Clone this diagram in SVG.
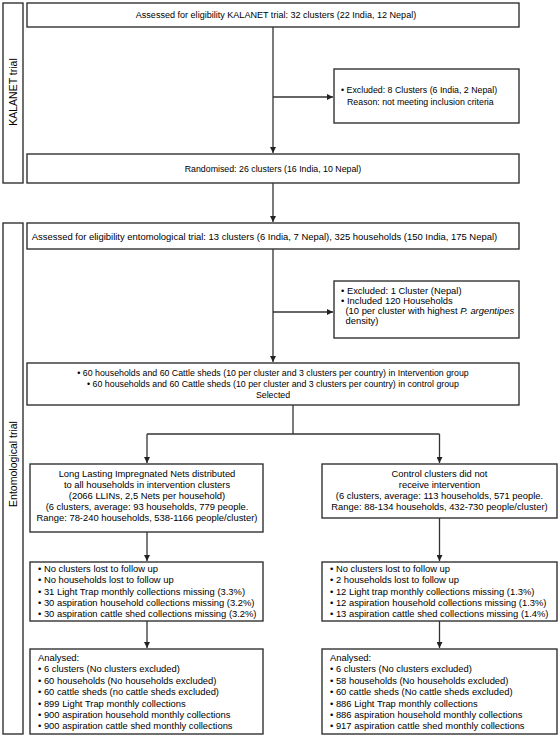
<svg xmlns="http://www.w3.org/2000/svg" width="560" height="738" viewBox="0 0 560 738">
<defs>
<marker id="ah" markerWidth="6" markerHeight="6" refX="6" refY="3" orient="auto" markerUnits="userSpaceOnUse">
<path d="M0,0 L6,3 L0,6 Z" fill="#222"/>
</marker>
<style>
.box{fill:#fff;stroke:#333;stroke-width:1.4}
.t{font-family:"Liberation Sans",Arial,sans-serif;font-size:8.8px;fill:#000}
.c{text-anchor:middle}
.m{font-size:9.4px}
.lab{font-family:"Liberation Sans",Arial,sans-serif;font-size:10.5px;fill:#000;text-anchor:middle}
.ln{fill:none;stroke:#333;stroke-width:1.3}
</style>
</defs>
<rect width="560" height="738" fill="#fff"/>
<g id="label-kalanet">
<rect class="box" x="3" y="3" width="20" height="180"/>
<text class="lab" transform="translate(16.8,92) rotate(-90)">KALANET trial</text>
</g>
<g id="label-ento">
<rect class="box" x="3" y="223" width="20" height="511"/>
<text class="lab" transform="translate(16.8,464) rotate(-90)">Entomological trial</text>
</g>
<g id="assessed-kalanet">
<rect class="box" x="27" y="3" width="492" height="24"/>
<text class="t c" x="276" y="18" style="font-size:9.05px">Assessed for eligibility KALANET trial: 32 clusters (22 India, 12 Nepal)</text>
</g>
<g id="excluded-kalanet">
<rect class="box" x="334" y="69" width="185" height="54"/>
<text class="t" x="341" y="93">• Excluded: 8 Clusters (6 India, 2 Nepal)</text>
<text class="t" x="347" y="105">Reason: not meeting inclusion criteria</text>
</g>
<g id="randomised">
<rect class="box" x="27" y="154" width="492" height="29"/>
<text class="t c" x="273" y="171.5">Randomised: 26 clusters (16 India, 10 Nepal)</text>
</g>
<g id="assessed-ento">
<rect class="box" x="27" y="223" width="492" height="26"/>
<text class="t c" x="264.5" y="239.5" style="font-size:9.45px">Assessed for eligibility entomological trial: 13 clusters (6 India, 7 Nepal), 325 households (150 India, 175 Nepal)</text>
</g>
<g id="excluded-ento">
<rect class="box" x="334" y="281" width="185" height="57"/>
<text class="t m" x="341" y="294">• Excluded: 1 Cluster (Nepal)</text>
<text class="t m" x="341" y="304">• Included 120 Households</text>
<text class="t m" x="345.5" y="314">(10 per cluster with highest <tspan font-style="italic">P. argentipes</tspan></text>
<text class="t m" x="345.5" y="324">density)</text>
</g>
<g id="selected">
<rect class="box" x="27" y="363" width="492" height="42"/>
<text class="t c" x="273" y="376">• 60 households and 60 Cattle sheds (10 per cluster and 3 clusters per country) in Intervention group</text>
<text class="t c" x="273" y="387">• 60 households and 60 Cattle sheds (10 per cluster and 3 clusters per country) in control group</text>
<text class="t c" x="273" y="398">Selected</text>
</g>
<g id="intervention">
<rect class="box" x="30" y="464" width="233" height="68"/>
<text class="t c m" x="147" y="477">Long Lasting Impregnated Nets distributed</text>
<text class="t c m" x="147" y="488">to all households in intervention clusters</text>
<text class="t c m" x="147" y="499">(2066 LLINs, 2,5 Nets per household)</text>
<text class="t c m" x="147" y="510">(6 clusters, average: 93 households, 779 people.</text>
<text class="t c m" x="147" y="521">Range: 78-240 households, 538-1166 people/cluster)</text>
</g>
<g id="control">
<rect class="box" x="322" y="464" width="235" height="54"/>
<text class="t c m" x="439.5" y="477">Control clusters did not</text>
<text class="t c m" x="439.5" y="488">receive intervention</text>
<text class="t c m" x="439.5" y="499">(6 clusters, average: 113 households, 571 people.</text>
<text class="t c m" x="439.5" y="510">Range: 88-134 households, 432-730 people/cluster)</text>
</g>
<g id="followup-intervention">
<rect class="box" x="30" y="562" width="233" height="59"/>
<text class="t m" x="38" y="572">• No clusters lost to follow up</text>
<text class="t m" x="38" y="583.3">• No households lost to follow up</text>
<text class="t m" x="38" y="594.6">• 31 Light Trap monthly collections missing (3.3%)</text>
<text class="t m" x="38" y="605.9">• 30 aspiration household collections missing (3.2%)</text>
<text class="t m" x="38" y="617.2">• 30 aspiration cattle shed collections missing (3.2%)</text>
</g>
<g id="followup-control">
<rect class="box" x="322" y="562" width="235" height="59"/>
<text class="t m" x="330" y="572">• No clusters lost to follow up</text>
<text class="t m" x="330" y="583.3">• 2 households lost to follow up</text>
<text class="t m" x="330" y="594.6">• 12 Light trap monthly collections missing (1.3%)</text>
<text class="t m" x="330" y="605.9">• 12 aspiration household collections missing (1.3%)</text>
<text class="t m" x="330" y="617.2">• 13 aspiration cattle shed collections missing (1.4%)</text>
</g>
<g id="analysed-intervention">
<rect class="box" x="30" y="649" width="233" height="85"/>
<text class="t m" x="38" y="661">Analysed:</text>
<text class="t m" x="38" y="672.4">• 6 clusters (No clusters excluded)</text>
<text class="t m" x="38" y="683.8">• 60 households (No households excluded)</text>
<text class="t m" x="38" y="695.2">• 60 cattle sheds (no cattle sheds excluded)</text>
<text class="t m" x="38" y="706.6">• 899 Light Trap monthly collections</text>
<text class="t m" x="38" y="718">• 900 aspiration household monthly collections</text>
<text class="t m" x="38" y="729.4">• 900 aspiration cattle shed monthly collections</text>
</g>
<g id="analysed-control">
<rect class="box" x="322" y="649" width="235" height="85"/>
<text class="t m" x="330" y="661">Analysed:</text>
<text class="t m" x="330" y="672.4">• 6 clusters (No clusters excluded)</text>
<text class="t m" x="330" y="683.8">• 58 households (No households excluded)</text>
<text class="t m" x="330" y="695.2">• 60 cattle sheds (No cattle sheds excluded)</text>
<text class="t m" x="330" y="706.6">• 886 Light Trap monthly collections</text>
<text class="t m" x="330" y="718">• 886 aspiration household monthly collections</text>
<text class="t m" x="330" y="729.4">• 917 aspiration cattle shed monthly collections</text>
</g>
<g id="connectors">
<path class="ln" d="M273,27 V153" marker-end="url(#ah)"/>
<path class="ln" d="M273,97 H333" marker-end="url(#ah)"/>
<path class="ln" d="M273,183 V222" marker-end="url(#ah)"/>
<path class="ln" d="M273,249 V362" marker-end="url(#ah)"/>
<path class="ln" d="M273,312 H333" marker-end="url(#ah)"/>
<path class="ln" d="M293,405 V434"/>
<path class="ln" d="M147,434 H439.5"/>
<path class="ln" d="M147,434 V463" marker-end="url(#ah)"/>
<path class="ln" d="M439.5,434 V463" marker-end="url(#ah)"/>
<path class="ln" d="M147,532 V561" marker-end="url(#ah)"/>
<path class="ln" d="M439.5,518 V561" marker-end="url(#ah)"/>
<path class="ln" d="M147,621 V648" marker-end="url(#ah)"/>
<path class="ln" d="M439.5,621 V648" marker-end="url(#ah)"/>
</g>
</svg>
